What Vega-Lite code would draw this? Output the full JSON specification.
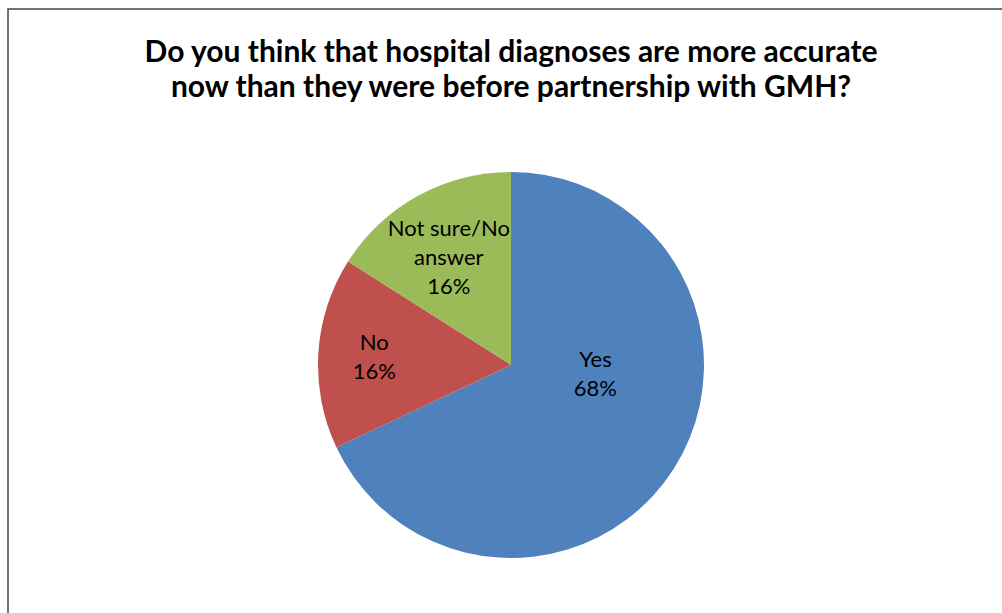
{
  "$schema": "https://vega.github.io/schema/vega-lite/v6.json",
  "autosize": {"type": "none"},
  "padding": {"left": 8, "top": 9, "right": 0, "bottom": 0},
  "width": 1006,
  "height": 712,
  "background": "white",
  "view": {"stroke": "#454545", "strokeWidth": 1.5, "fill": "white"},
  "config": {"view": {"stroke": "#454545", "strokeWidth": 1.5}},
  "title": {
    "text": ["Do you think that hospital diagnoses are more accurate", "now than they were before partnership with GMH?"],
    "anchor": "middle",
    "frame": "group",
    "offset": -118,
    "baseline": "alphabetic",
    "font": "Lato",
    "fontSize": 30,
    "fontWeight": "bold",
    "color": "#000000",
    "lineHeight": 35
  },
  "data": {
    "values": [
      {"category": "Yes", "percent": 68, "order": 1, "label": "Yes\n68%"},
      {"category": "No", "percent": 16, "order": 2, "label": "No\n16%"},
      {"category": "Not sure/No answer", "percent": 16, "order": 3, "label": "Not sure/No\nanswer\n16%"}
    ]
  },
  "encoding": {
    "theta": {"field": "percent", "type": "quantitative", "stack": true},
    "order": {"field": "order", "type": "quantitative"}
  },
  "layer": [
    {
      "mark": {"type": "arc", "outerRadius": 193, "stroke": null},
      "encoding": {
        "color": {
          "field": "category",
          "type": "nominal",
          "scale": {"domain": ["Yes", "No", "Not sure/No answer"], "range": ["#4F81BD", "#C0504D", "#9BBB59"]},
          "legend": null
        }
      }
    },
    {
      "mark": {"type": "text", "radius": 100, "dy": -59, "font": "Lato", "fontSize": 22, "color": "#000000", "lineBreak": "\n", "lineHeight": 29, "align": "center", "baseline": "middle"},
      "encoding": {"text": {"condition": {"test": "datum.category !== 'Yes'", "value": ""}, "field": "label"}}
    },
    {
      "mark": {"type": "text", "radius": 137, "dy": -13, "font": "Lato", "fontSize": 22, "color": "#000000", "lineBreak": "\n", "lineHeight": 29, "align": "center", "baseline": "middle"},
      "encoding": {"text": {"condition": {"test": "datum.category !== 'No'", "value": ""}, "field": "label"}}
    },
    {
      "mark": {"type": "text", "radius": 129, "dy": -23, "font": "Lato", "fontSize": 22, "color": "#000000", "lineBreak": "\n", "lineHeight": 29, "align": "center", "baseline": "middle"},
      "encoding": {"text": {"condition": {"test": "datum.category !== 'Not sure/No answer'", "value": ""}, "field": "label"}}
    }
  ]
}
